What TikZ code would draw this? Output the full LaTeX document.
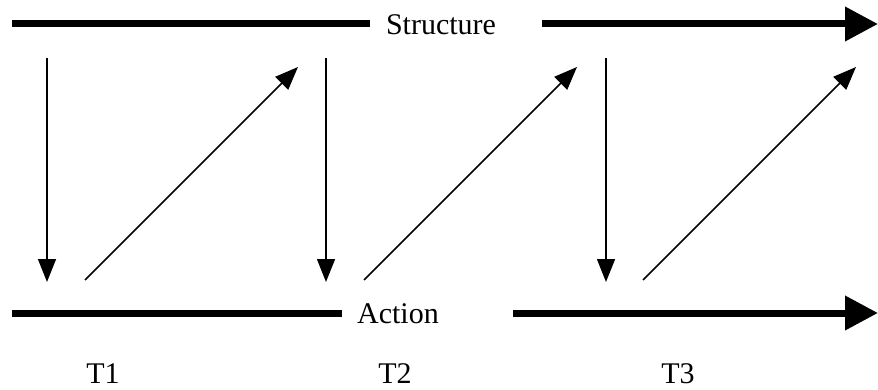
\documentclass[tikz,border=0pt]{standalone}
\usepackage{fontspec}
\setmainfont{Liberation Serif}
\usetikzlibrary{arrows.meta}

\begin{document}
\begin{tikzpicture}[
    x=1pt, y=-1pt,
    font=\fontsize{30}{36}\selectfont,
    timeline/.style={
        line width=7pt
    },
    timearrow/.style={
        line width=7pt,
        -{Triangle[length=33pt,width=33pt]}
    },
    link/.style={
        line width=1.5pt,
        -{Triangle[length=23pt,width=18pt]}
    },
    tlabel/.style={
        inner sep=0pt,
        anchor=base
    }
]
\useasboundingbox (0,0) rectangle (878,390);

% Structure line
\node[tlabel] (struct) at (441,35) {Structure};
\coordinate (s0) at (12,24);
\coordinate (s1) at (370,24);
\coordinate (s2) at (542,24);
\coordinate (s3) at (878,24);
\draw[timeline] (s0) -- (s1);
\draw[timearrow] (s2) -- (s3);

% Action line
\node[tlabel] (action) at (398,323) {Action};
\coordinate (a0) at (12,313);
\coordinate (a1) at (342,313);
\coordinate (a2) at (513,313);
\coordinate (a3) at (878,313);
\draw[timeline] (a0) -- (a1);
\draw[timearrow] (a2) -- (a3);

% Links between structure and action
\foreach \i/\xd/\xu in {1/47/85, 2/326/364, 3/606/643} {
    \coordinate (down\i) at (\xd,58);
    \coordinate (tip\i) at (\xd,282);
    \coordinate (up\i) at (\xu,280);
    \coordinate (head\i) at (\xu+213,67);
    \draw[link] (down\i) -- (tip\i);
    \draw[link] (up\i) -- (head\i);
}

% Time labels
\node[tlabel] (t1) at (103,383) {T1};
\node[tlabel] (t2) at (395,383) {T2};
\node[tlabel] (t3) at (678,383) {T3};

\end{tikzpicture}
\end{document}
